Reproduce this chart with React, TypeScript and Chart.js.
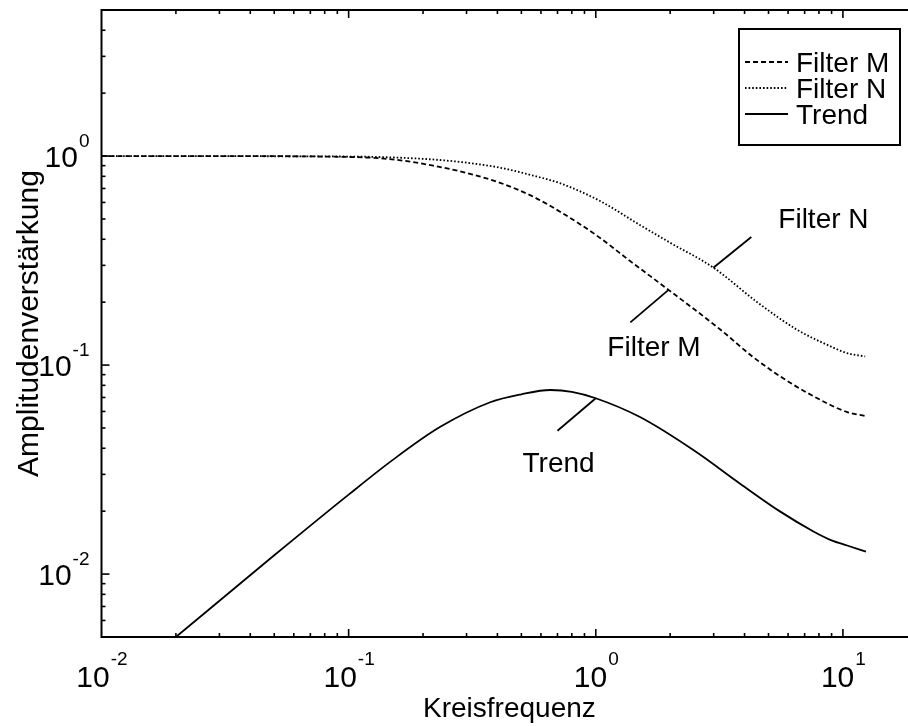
import React, { useEffect, useRef } from 'react';
import { Chart, registerables } from 'chart.js';

Chart.register(...registerables);

// ---------- data ----------
const seriesNames = ['Filter M', 'Filter N', 'Trend'];

const filterMFreq = [0.01, 0.03, 0.1, 0.15, 0.22, 0.3, 0.41, 0.55, 0.72, 1.0, 1.4, 1.97, 3.19, 4.3, 5.6, 7.6, 10.4, 12.4];
const filterMGain = [1.0, 1.0, 0.99, 0.965, 0.9, 0.83, 0.745, 0.645, 0.54, 0.42, 0.31, 0.229, 0.148, 0.11, 0.088, 0.071, 0.0596, 0.057];

const filterNFreq = [0.01, 0.1, 0.2, 0.3, 0.41, 0.55, 0.72, 1.04, 1.5, 2.0, 3.0, 4.5, 6.5, 8.9, 10.4, 12.3];
const filterNGain = [1.0, 0.995, 0.97, 0.93, 0.88, 0.81, 0.74, 0.61, 0.47, 0.385, 0.292, 0.2, 0.148, 0.123, 0.114, 0.11];

const trendFreq = [0.02, 0.05, 0.1, 0.15, 0.234, 0.374, 0.5, 0.655, 0.8, 1.0, 1.51, 2.5, 3.85, 5.58, 7.6, 9.0, 10.4, 12.4];
const trendGain = [0.005, 0.0123, 0.024, 0.035, 0.0505, 0.0664, 0.0725, 0.076, 0.0745, 0.0694, 0.0564, 0.039, 0.027, 0.0199, 0.016, 0.0145, 0.0137, 0.0128];

const xTickExponents = [-2, -1, 0, 1];
const yTickExponents = [-2, -1, 0];
const xMin = 0.01;
const xMax = 20;
const yMin = 0.005;
const yMax = 5;

const xTitle = 'Kreisfrequenz';
const yTitle = 'Amplitudenverstärkung';

// annotation labels: text, point on the curve, end of leader line (data coords)
const annotationLabels = ['Filter N', 'Filter M', 'Trend'];
const annotationFrom = [[2.99, 0.292], [1.97, 0.229], [1.0, 0.0694]];
const annotationTo = [[4.26, 0.41], [1.38, 0.16], [0.7, 0.0485]];

// ---------- layout / style ----------
const FONT = '"Liberation Sans", Arial, Helvetica, sans-serif';
const CANVAS_W = 930;
const CANVAS_H = 726;
const annotationTextOffset = [[27, -9], [-23, 34], [-35, 41]];
const dashes = [[5, 3], [1.6, 2], []];

function drawPlugin() {
  return {
    id: 'matlabFrame',
    afterDatasetsDraw(chart: any) {
      const { ctx, chartArea: a, scales } = chart;
      const xs = scales.x;
      const ys = scales.y;
      ctx.save();
      ctx.strokeStyle = '#000';
      ctx.fillStyle = '#000';

      const line = (x1: number, y1: number, x2: number, y2: number) => {
        ctx.beginPath();
        ctx.moveTo(x1, y1);
        ctx.lineTo(x2, y2);
        ctx.stroke();
      };

      // frame
      ctx.lineWidth = 2;
      ctx.strokeRect(a.left, a.top, a.right - a.left, a.bottom - a.top);

      // inside ticks
      ctx.lineWidth = 1.6;
      for (let e = -3; e <= 2; e++) {
        for (let k = 1; k <= 9; k++) {
          const v = k * Math.pow(10, e);
          const len = k === 1 ? 8 : 4;
          if (v > xMin * 1.0001 && v < xMax * 0.9999) {
            const px = xs.getPixelForValue(v);
            line(px, a.bottom, px, a.bottom - len);
            line(px, a.top, px, a.top + len);
          }
          if (v > yMin * 1.0001 && v < yMax * 0.9999) {
            const py = ys.getPixelForValue(v);
            line(a.left, py, a.left + len, py);
            line(a.right, py, a.right - len, py);
          }
        }
      }

      // tick labels with superscript exponent
      const baseFont = `30px ${FONT}`;
      const expFont = `19px ${FONT}`;
      ctx.textBaseline = 'alphabetic';
      ctx.textAlign = 'left';
      xTickExponents.forEach((e) => {
        const px = xs.getPixelForValue(Math.pow(10, e));
        ctx.font = baseFont;
        const wb = ctx.measureText('10').width;
        ctx.font = expFont;
        const we = ctx.measureText(String(e)).width;
        const start = px - (wb + we) / 2;
        ctx.font = baseFont;
        ctx.fillText('10', start, a.bottom + 50);
        ctx.font = expFont;
        ctx.fillText(String(e), start + wb + 1, a.bottom + 28);
      });
      yTickExponents.forEach((e) => {
        const py = ys.getPixelForValue(Math.pow(10, e));
        ctx.font = expFont;
        const we = ctx.measureText(String(e)).width;
        ctx.font = baseFont;
        const wb = ctx.measureText('10').width;
        const right = a.left - 12;
        ctx.fillText('10', right - we - wb - 1, py + 11);
        ctx.font = expFont;
        ctx.fillText(String(e), right - we, py - 9);
      });

      // axis titles
      ctx.font = `28px ${FONT}`;
      ctx.textAlign = 'center';
      ctx.fillText(xTitle, (a.left + a.right) / 2, a.bottom + 80);
      ctx.save();
      ctx.font = `30px ${FONT}`;
      ctx.translate(38, (a.top + a.bottom) / 2);
      ctx.rotate(-Math.PI / 2);
      ctx.fillText(yTitle, 0, 0);
      ctx.restore();

      // annotations
      ctx.lineWidth = 1.8;
      ctx.textAlign = 'left';
      ctx.font = `28px ${FONT}`;
      annotationLabels.forEach((label, i) => {
        const fx = xs.getPixelForValue(annotationFrom[i][0]);
        const fy = ys.getPixelForValue(annotationFrom[i][1]);
        const tx = xs.getPixelForValue(annotationTo[i][0]);
        const ty = ys.getPixelForValue(annotationTo[i][1]);
        line(fx, fy, tx, ty);
        ctx.fillText(label, tx + annotationTextOffset[i][0], ty + annotationTextOffset[i][1]);
      });

      // legend box
      const lx = 739;
      const ly = 29;
      const lw = 161;
      const lh = 116;
      ctx.lineWidth = 2;
      ctx.fillStyle = '#fff';
      ctx.fillRect(lx, ly, lw, lh);
      ctx.strokeRect(lx, ly, lw, lh);
      ctx.fillStyle = '#000';
      chart.data.datasets.forEach((ds: any, i: number) => {
        const base = ly + 43 + i * 26;
        ctx.lineWidth = ds.borderWidth;
        ctx.setLineDash(ds.borderDash || []);
        line(lx + 6, base - 10, lx + 49, base - 10);
        ctx.setLineDash([]);
        ctx.fillText(ds.label, lx + 57, base);
      });

      ctx.restore();
    },
  };
}

export default function App() {
  const canvasRef = useRef<HTMLCanvasElement | null>(null);

  useEffect(() => {
    document.body.style.margin = '0';
    const canvas = canvasRef.current;
    if (!canvas) return;
    const freqs = [filterMFreq, filterNFreq, trendFreq];
    const gains = [filterMGain, filterNGain, trendGain];
    const chart = new Chart(canvas, {
      type: 'line',
      data: {
        datasets: seriesNames.map((name, i) => ({
          label: name,
          data: freqs[i].map((f, j) => ({ x: f, y: gains[i][j] })),
          borderColor: '#000',
          backgroundColor: '#000',
          borderWidth: 1.8,
          borderDash: dashes[i],
          pointRadius: 0,
          fill: false,
          cubicInterpolationMode: 'monotone',
        })),
      },
      options: {
        responsive: false,
        animation: false,
        devicePixelRatio: 1,
        layout: {
          padding: { left: 101.5, right: CANVAS_W - 917.3, top: 10, bottom: CANVAS_H - 637 },
        },
        plugins: { legend: { display: false }, tooltip: { enabled: false } },
        scales: {
          x: { type: 'logarithmic', min: xMin, max: xMax, display: false },
          y: { type: 'logarithmic', min: yMin, max: yMax, display: false },
        },
      },
      plugins: [drawPlugin()],
    } as any);
    return () => chart.destroy();
  }, []);

  return (
    <div style={{ width: 908, height: 726, overflow: 'hidden', background: '#fff' }}>
      <canvas ref={canvasRef} width={CANVAS_W} height={CANVAS_H} style={{ display: 'block', width: CANVAS_W, height: CANVAS_H }} />
    </div>
  );
}
